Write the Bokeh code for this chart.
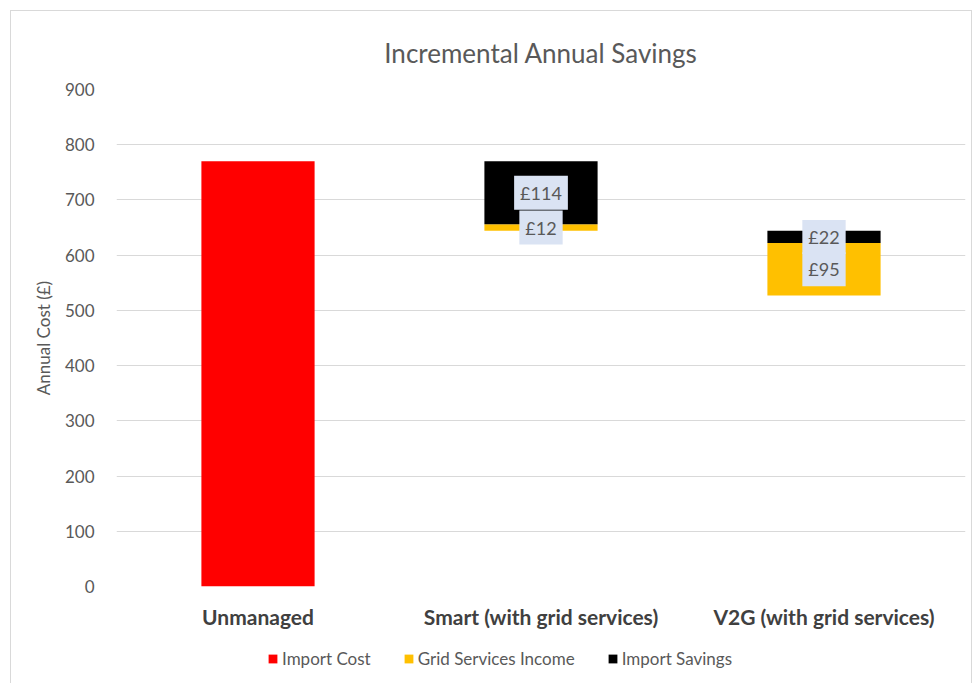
from bokeh.plotting import figure
from bokeh.layouts import column
from bokeh.models import Legend, LegendItem, ColumnDataSource, FixedTicker, Range1d
from bokeh.core.properties import value
from bokeh.embed import file_html
from bokeh.resources import INLINE

categories = ["Unmanaged", "Smart (with grid services)", "V2G (with grid services)"]
import_cost = [770, 0, 0]
import_savings = [0, 114, 22]
grid_income = [0, 12, 95]
y_ticks = [0, 100, 200, 300, 400, 500, 600, 700, 800, 900]
series_names = ["Import Cost", "Grid Services Income", "Import Savings"]

FONT = "Lato"
RED, YELLOW, BLACK = "#ff0000", "#ffc000", "#000000"
COLORS = [RED, YELLOW, BLACK]

# waterfall levels
start = [import_cost[0]]
for i in range(1, len(categories)):
    start.append(start[-1] - import_savings[i - 1] - grid_income[i - 1])
sav_top = start[:]
sav_bot = [s - v for s, v in zip(start, import_savings)]
inc_top = sav_bot[:]
inc_bot = [s - v for s, v in zip(inc_top, grid_income)]

p = figure(x_range=categories, y_range=Range1d(0, 900), width=960, height=620,
           output_backend="svg", toolbar_location=None,
           title="Incremental Annual Savings",
           min_border_left=105, min_border_right=6, min_border_top=78, min_border_bottom=43)

p.title.align = "center"
p.title.text_font = FONT
p.title.text_font_size = "26px"
p.title.text_font_style = "normal"
p.title.text_color = "#595959"
p.title.standoff = 42

p.outline_line_color = None
p.xgrid.grid_line_color = None
p.ygrid.grid_line_color = "#d9d9d9"
p.ygrid.grid_line_width = 1

p.yaxis.ticker = FixedTicker(ticks=y_ticks)
p.yaxis.axis_line_color = None
p.yaxis.major_tick_line_color = None
p.yaxis.minor_tick_line_color = None
p.yaxis.major_label_text_font = FONT
p.yaxis.major_label_text_font_size = "17px"
p.yaxis.major_label_text_color = "#595959"
p.yaxis.major_label_standoff = 16
p.yaxis.axis_label = "Annual Cost (£)"
p.yaxis.axis_label_text_font = FONT
p.yaxis.axis_label_text_font_size = "17px"
p.yaxis.axis_label_text_font_style = "normal"
p.yaxis.axis_label_text_color = "#595959"
p.yaxis.axis_label_standoff = 8

p.xaxis.axis_line_color = None
p.xaxis.major_tick_line_color = None
p.xaxis.major_label_text_font = FONT
p.xaxis.major_label_text_font_size = "21px"
p.xaxis.major_label_text_font_style = "bold"
p.xaxis.major_label_text_color = "#404040"
p.xaxis.major_label_standoff = 11

W = 0.4
p.vbar(x=categories, bottom=0, top=import_cost, width=W, color=RED, line_color=None)
p.vbar(x=categories, bottom=inc_bot, top=inc_top, width=W, color=YELLOW, line_color=None)
p.vbar(x=categories, bottom=sav_bot, top=sav_top, width=W, color=BLACK, line_color=None)

lab_x, lab_y, lab_t = [], [], []
for i, c in enumerate(categories):
    if import_savings[i]:
        lab_x.append(c); lab_y.append((sav_top[i] + sav_bot[i]) / 2); lab_t.append(f"£{import_savings[i]}")
    if grid_income[i]:
        lab_x.append(c); lab_y.append((inc_top[i] + inc_bot[i]) / 2); lab_t.append(f"£{grid_income[i]}")
src = ColumnDataSource(dict(x=lab_x, y=lab_y, t=lab_t))
p.text(x="x", y="y", text="t", source=src, anchor="center", text_align="center",
       text_baseline="middle", text_font=value(FONT), text_font_size="18px",
       text_color="#595959", background_fill_color="#dae3f3", padding=6)

# legend strip (swatch glyphs sit outside the visible range; only the legend shows)
lf = figure(width=960, height=53, x_range=Range1d(0, 1), y_range=Range1d(0, 1),
            output_backend="svg", toolbar_location=None,
            min_border_left=0, min_border_right=0, min_border_top=0, min_border_bottom=0)
lf.axis.visible = False
lf.grid.visible = False
lf.outline_line_color = None
items = []
for name, col in zip(series_names, COLORS):
    r = lf.vbar(x=[-10], bottom=[-10], top=[-9], width=0.1, color=col, line_color=None)
    items.append(LegendItem(label=name, renderers=[r]))
legend = Legend(items=items, orientation="horizontal", location=(151, 15))
legend.label_text_font = FONT
legend.label_text_font_size = "17px"
legend.label_text_color = "#595959"
legend.glyph_width = 11
legend.glyph_height = 11
legend.spacing = 32
legend.label_standoff = 4
legend.padding = 4
legend.margin = 0
legend.background_fill_alpha = 0
legend.border_line_color = None
lf.add_layout(legend, "center")

layout = column(p, lf, spacing=0)
layout.margin = (10, 0, 0, 10)
layout.styles = {"border": "1px solid #d9d9d9"}

open("out.html", "w").write(file_html(layout, INLINE))
